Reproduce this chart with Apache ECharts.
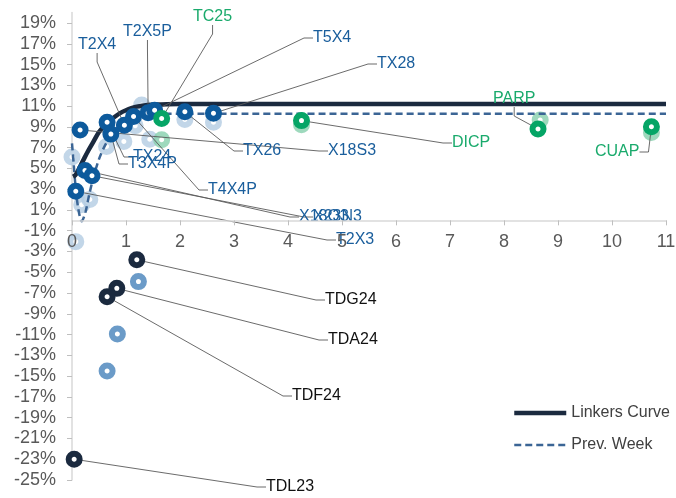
<!DOCTYPE html>
<html>
<head>
<meta charset="utf-8">
<script src="https://cdn.jsdelivr.net/npm/echarts@6/dist/echarts.min.js"></script>
<style>html,body{margin:0;padding:0;background:#fff}#c{width:676px;height:498px}</style>
</head>
<body>
<div id="c"></div>
<script>
// ---- data ----
const yTicks = [-25,-23,-21,-19,-17,-15,-13,-11,-9,-7,-5,-3,-1,1,3,5,7,9,11,13,15,17,19];
const xTicks = [0,1,2,3,4,5,6,7,8,9,10,11];

const curveX = [0.02,0.07,0.2,0.3,0.4,0.5,0.6,0.7,0.8,0.9,1.0,1.1,1.2,1.4,1.6,2.0,4.0,8.0,11.0];
const curveY = [4.2,4.4,5.7,6.7,7.6,8.5,9.1,9.6,10.0,10.35,10.6,10.8,10.95,11.1,11.15,11.2,11.2,11.2,11.2];

const prevX = [0.0,0.03,0.07,0.12,0.18,0.25,0.32,0.4,0.5,0.6,0.7,0.8,0.9,1.0,1.2,1.4,1.7,2.0,11.0];
const prevY = [7.4,5.5,3.0,1.0,-0.1,0.8,2.5,4.2,5.9,7.1,8.0,8.7,9.2,9.6,10.0,10.2,10.25,10.25,10.25];

const blueNames = ['T2X3','X18O3','X23N3','X18S3','TX24','T3X4P','T2X4','T4X4P','T2X5P','T5X4','TX26','TX28'];
const blueX = [0.07,0.24,0.37,0.15,0.65,0.72,0.97,1.14,1.41,1.53,2.09,2.62];
const blueY = [2.8,4.8,4.3,8.7,9.45,8.3,9.15,10.0,10.35,10.6,10.45,10.3];

const bluePrevX = [0.0,0.18,0.33,0.07,0.64,0.96,1.17,1.29,1.44,2.09,2.62];
const bluePrevY = [6.1,1.5,2.0,-2.05,7.1,7.6,9.1,11.1,7.8,9.7,9.45];

const greenNames = ['TC25','DICP','PARP','CUAP'];
const greenX = [1.66,4.25,8.63,10.73];
const greenY = [9.8,9.6,8.8,9.0];

const greenPrevX = [1.66,4.25,8.67,10.73];
const greenPrevY = [7.75,9.2,9.65,8.45];

const tdNames = ['TDG24','TDA24','TDF24','TDL23'];
const tdX = [1.20,0.83,0.65,0.04];
const tdY = [-3.8,-6.55,-7.35,-23.0];

const tdPrevX = [1.23,0.84,0.65];
const tdPrevY = [-5.9,-10.95,-14.5];

// ---- label placement (pixels: left, middle) ----
const labelPos = {
  'T2X3':[336,240], 'X18O3':[299,217], 'X23N3':[313,217], 'X18S3':[328,151],
  'TX24':[133,157], 'T3X4P':[128,164], 'T2X4':[78,45], 'T4X4P':[208,190],
  'T2X5P':[123,32], 'T5X4':[313,38], 'TX26':[243,151], 'TX28':[377,64],
  'TC25':[193,17], 'DICP':[452,143], 'PARP':[493,99], 'CUAP':[595,152],
  'TDG24':[325,300], 'TDA24':[328,340], 'TDF24':[292,396], 'TDL23':[266,487]
};

const FONT = 'Liberation Sans, Arial, sans-serif';
const Y_MIN = -25, Y_MAX = 20;
const GRID_TOP = 12.6, GRID_BOTTOM = 18, CHART_H = 498;
const zip = (xs, ys) => xs.map((x, i) => [x, ys[i]]);
const named = (names, xs, ys) => names.map((n, i) => ({ name: n, value: [xs[i], ys[i]] }));

// distance from grid bottom up to the zero line (x axis sits on 0%)
const plotH = CHART_H - GRID_TOP - GRID_BOTTOM;
const zeroOffset = plotH * (0 - Y_MIN) / (Y_MAX - Y_MIN);

function ringSeries(name, data, border, opacity, labelColor, z) {
  const s = {
    name, type: 'scatter', data, symbol: 'circle', symbolSize: 11, z: z || 4,
    itemStyle: { color: '#ffffff', borderColor: border, borderWidth: 6, opacity: opacity },
    emphasis: { disabled: true }
  };
  if (labelColor) {
    s.label = { show: true, formatter: '{b}', color: labelColor, fontSize: 16, fontFamily: FONT };
    s.labelLine = { show: true, length2: 9, lineStyle: { color: '#5a5a5a', width: 0.9 } };
    s.labelLayout = function (p) {
      const pos = labelPos[p.text];
      if (!pos) return {};
      return { x: pos[0], y: pos[1], align: 'left', verticalAlign: 'middle', hideOverlap: false };
    };
  }
  return s;
}

const chart = echarts.init(document.getElementById('c'), null, { renderer: 'canvas' });
chart.setOption({
  animation: false,
  backgroundColor: '#ffffff',
  grid: { left: 72, right: 10, top: GRID_TOP, bottom: GRID_BOTTOM, containLabel: false, outerBoundsMode: 'none' },
  legend: {
    data: [
      { name: 'Linkers Curve', lineStyle: { width: 4.5 } },
      { name: 'Prev. Week', lineStyle: { width: 2.5 } }
    ],
    orient: 'vertical', left: 507, top: 400,
    itemWidth: 52, itemHeight: 14, itemGap: 16,
    itemStyle: { opacity: 0 },
    textStyle: { color: '#404040', fontSize: 16, fontFamily: FONT }
  },
  xAxis: {
    type: 'value', min: 0, max: 11, interval: 1, z: 5,
    offset: -zeroOffset,
    axisLine: { onZero: false, lineStyle: { color: '#d9d9d9', width: 1.5 } },
    axisTick: { show: true, length: 5, lineStyle: { color: '#bfbfbf' }, customValues: xTicks },
    axisLabel: { color: '#595959', fontSize: 18, fontFamily: FONT, margin: 13,
      customValues: xTicks },
    splitLine: { show: false }
  },
  yAxis: {
    type: 'value', min: Y_MIN, max: Y_MAX, interval: 2,
    axisLine: { show: true, lineStyle: { color: '#d9d9d9', width: 1.5 } },
    axisTick: { show: true, length: 5, lineStyle: { color: '#bfbfbf' }, customValues: yTicks },
    axisLabel: { color: '#595959', fontSize: 18, fontFamily: FONT, margin: 16,
      customValues: yTicks,
      formatter: v => (v === 20 ? '' : v + '%') },
    splitLine: { show: false }
  },
  series: [
    ringSeries('bluePrev', zip(bluePrevX, bluePrevY), '#b3cce2', 0.8, null, 2),
    ringSeries('greenPrev', zip(greenPrevX, greenPrevY), '#86cfad', 0.8, null, 2),
    ringSeries('tdPrev', zip(tdPrevX, tdPrevY), '#6b9bc8', 1, null, 2),
    {
      name: 'Prev. Week', type: 'line', data: zip(prevX, prevY), smooth: 0.3,
      showSymbol: false, symbol: 'none', z: 3,
      itemStyle: { color: '#3b6595' },
      lineStyle: { color: '#3b6595', width: 2.5, type: [7, 4] },
      emphasis: { disabled: true }
    },
    {
      name: 'Linkers Curve', type: 'line', data: zip(curveX, curveY), smooth: 0.3,
      showSymbol: false, symbol: 'none', z: 3,
      itemStyle: { color: '#1b2a3f' },
      lineStyle: { color: '#1b2a3f', width: 4.5 },
      emphasis: { disabled: true }
    },
    ringSeries('blue', named(blueNames, blueX, blueY), '#0d5a9c', 1, '#1a5e9c', 4),
    ringSeries('green', named(greenNames, greenX, greenY), '#05a566', 1, '#1aaa6c', 4),
    ringSeries('td', named(tdNames, tdX, tdY), '#1b2a3f', 1, '#111111', 4)
  ]
});
</script>
</body>
</html>
